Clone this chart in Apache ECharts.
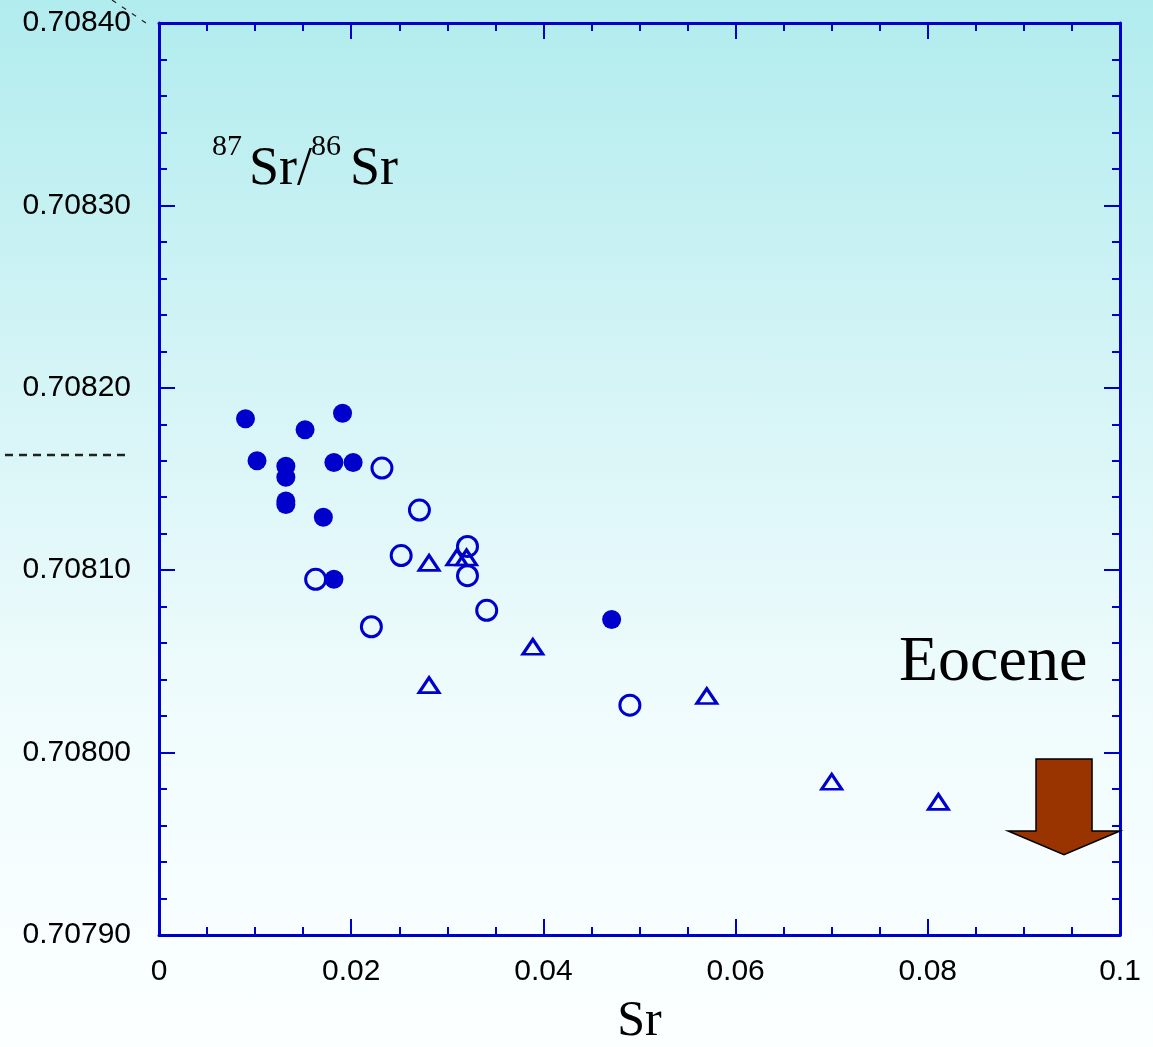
<!DOCTYPE html>
<html>
<head>
<meta charset="utf-8">
<script src="https://cdn.jsdelivr.net/npm/echarts@6/dist/echarts.min.js"></script>
<style>
  html, body { margin: 0; padding: 0; }
  #chart {
    width: 1153px; height: 1047px;
    background: linear-gradient(to bottom, #b1ecee 0%, #d4f4f6 35%, #eefbfc 65%, #f8feff 88%, #fbffff 100%);
  }
</style>
</head>
<body>
<div id="chart"></div>
<script>
// ---- data ----
var filledX = [0.0090, 0.0102, 0.0132, 0.0132, 0.0132, 0.0132, 0.0152, 0.0191, 0.0182, 0.0202, 0.0171, 0.0182, 0.0471];
var filledY = [0.708183, 0.708160, 0.708157, 0.708151, 0.708138, 0.708136, 0.708177, 0.708186, 0.708159, 0.708159, 0.708129, 0.708095, 0.708073];

var openX = [0.0232, 0.0271, 0.0252, 0.0321, 0.0321, 0.0163, 0.0341, 0.0221, 0.0490];
var openY = [0.708156, 0.708133, 0.708108, 0.708113, 0.708097, 0.708095, 0.708078, 0.708069, 0.708026];

var triX = [0.0281, 0.0310, 0.0320, 0.0389, 0.0281, 0.0570, 0.0700, 0.0811];
var triY = [0.708104, 0.708107, 0.708107, 0.708058, 0.708037, 0.708031, 0.707984, 0.707973];

var xTickLabels = ['0', '0.02', '0.04', '0.06', '0.08', '0.1'];
var yTickLabels = ['0.70790', '0.70800', '0.70810', '0.70820', '0.70830', '0.70840'];

// Eocene arrow anchor (data coordinates)
var arrowShaftX = [0.09126, 0.09709];
var arrowHeadX = [0.08835, 0.1000];
var arrowTipX = 0.09417;
var arrowY = { top: 0.7079965, shoulder: 0.707957, tip: 0.707944 };

function zip(a, b) { return a.map(function (v, i) { return [v, b[i]]; }); }

var BLUE = '#0000cc';
var SERIF = "'Liberation Serif', 'Times New Roman', serif";
var SANS = "'Liberation Sans', Arial, sans-serif";

var xMin = 0, xMax = 0.1, xInt = 0.02;
var yMin = 0.7079, yMax = 0.7084, yInt = 0.0001;

function xFmt(v) { var i = Math.round((v - xMin) / xInt); return xTickLabels[i] || ''; }
function yFmt(v) { var i = Math.round((v - yMin) / yInt); return yTickLabels[i] || ''; }

var axisCommon = {
  axisLine: { show: true, onZero: false, lineStyle: { color: BLUE, width: 3 } },
  axisTick: { show: true, inside: true, length: 16, lineStyle: { color: BLUE, width: 2 } },
  minorTick: { show: true, length: 8, lineStyle: { color: BLUE, width: 2 } },
  splitLine: { show: false },
  minorSplitLine: { show: false }
};

function mk(base, extra) { return Object.assign({}, JSON.parse(JSON.stringify(base)), extra); }

var chart = echarts.init(document.getElementById('chart'), null, { renderer: 'canvas' });

var option = {
  backgroundColor: 'transparent',
  animation: false,
  grid: { left: 159, right: 33, top: 23, bottom: 112, containLabel: false, outerBoundsMode: 'none' },
  xAxis: [
    mk(axisCommon, {
      type: 'value', position: 'bottom', min: xMin, max: xMax, interval: xInt,
      minorTick: { show: true, splitNumber: 4, length: 8, lineStyle: { color: BLUE, width: 2 } },
      axisLabel: { formatter: xFmt, color: '#000', fontSize: 30, fontFamily: SANS, margin: 22 },
      name: 'Sr', nameLocation: 'middle', nameGap: 62,
      nameTextStyle: { fontFamily: SERIF, fontSize: 50, color: '#000' }
    }),
    mk(axisCommon, {
      type: 'value', position: 'top', min: xMin, max: xMax, interval: xInt,
      minorTick: { show: true, splitNumber: 4, length: 8, lineStyle: { color: BLUE, width: 2 } },
      axisLabel: { show: false }
    })
  ],
  yAxis: [
    mk(axisCommon, {
      type: 'value', position: 'left', min: yMin, max: yMax, interval: yInt,
      minorTick: { show: true, splitNumber: 5, length: 8, lineStyle: { color: BLUE, width: 2 } },
      axisLabel: { formatter: yFmt, color: '#000', fontSize: 30, fontFamily: SANS, margin: 28 }
    }),
    mk(axisCommon, {
      type: 'value', position: 'right', min: yMin, max: yMax, interval: yInt,
      minorTick: { show: true, splitNumber: 5, length: 8, lineStyle: { color: BLUE, width: 2 } },
      axisLabel: { show: false }
    })
  ],
  series: [
    {
      name: 'filled', type: 'scatter', xAxisIndex: 0, yAxisIndex: 0,
      symbol: 'circle', symbolSize: 19,
      itemStyle: { color: BLUE, opacity: 1 },
      data: zip(filledX, filledY), z: 3
    },
    {
      name: 'open', type: 'scatter', xAxisIndex: 0, yAxisIndex: 0,
      symbol: 'circle', symbolSize: 20,
      itemStyle: { color: 'rgba(0,0,0,0)', borderColor: BLUE, borderWidth: 3, opacity: 1 },
      data: zip(openX, openY), z: 3
    },
    {
      name: 'triangle', type: 'scatter', xAxisIndex: 0, yAxisIndex: 0,
      symbol: 'triangle', symbolSize: [20, 15],
      itemStyle: { color: 'rgba(0,0,0,0)', borderColor: BLUE, borderWidth: 3, opacity: 1 },
      data: zip(triX, triY), z: 3
    }
  ]
};

chart.setOption(option);

function px(x, y) { return chart.convertToPixel({ gridIndex: 0 }, [x, y]); }

var pts = [
  px(arrowShaftX[0], arrowY.top),
  px(arrowShaftX[1], arrowY.top),
  px(arrowShaftX[1], arrowY.shoulder),
  px(arrowHeadX[1], arrowY.shoulder),
  px(arrowTipX, arrowY.tip),
  px(arrowHeadX[0], arrowY.shoulder),
  px(arrowShaftX[0], arrowY.shoulder)
];

function txt(id, text, x, y, size) {
  return {
    type: 'text', id: id, z: 10,
    style: {
      text: text, x: x, y: y, fill: '#000',
      font: size + 'px ' + SERIF,
      align: 'left', verticalAlign: 'top'
    }
  };
}

chart.setOption({
  graphic: [
    {
      type: 'polygon', id: 'arrow', z: 5,
      shape: { points: pts },
      style: { fill: '#993300', stroke: '#000', lineWidth: 1.5 }
    },
    {
      type: 'line', id: 'dash', z: 5,
      shape: { x1: 5, y1: 455, x2: 125, y2: 455 },
      style: { stroke: '#222', lineWidth: 2.5, lineDash: [8, 6] }
    },
    {
      type: 'line', id: 'dash2', z: 5,
      shape: { x1: 112, y1: 0, x2: 146, y2: 23 },
      style: { stroke: '#222', lineWidth: 1.2, lineDash: [5, 7] }
    },
    txt('sup1', '87', 212, 132, 30),
    txt('sr1', 'Sr/', 249, 143, 54),
    txt('sup2', '86', 311, 132, 30),
    txt('sr2', 'Sr', 350, 143, 54),
    txt('eocene', 'Eocene', 899, 631, 64)
  ]
});
</script>
</body>
</html>
